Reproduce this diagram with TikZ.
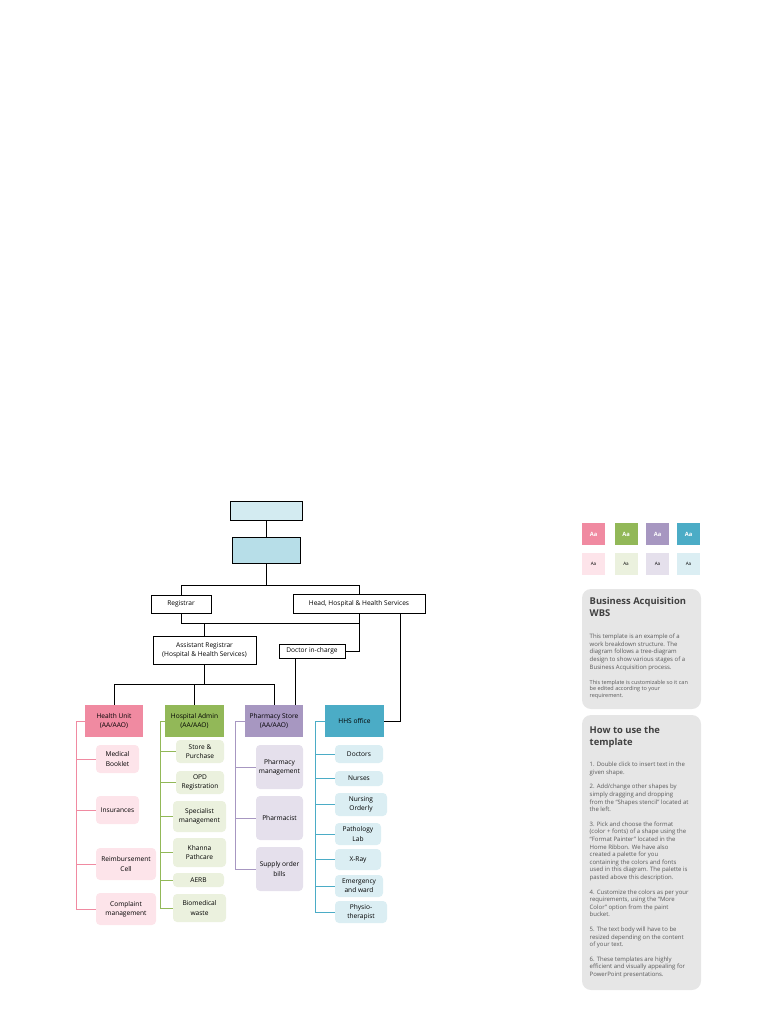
\documentclass[tikz,border=0pt]{standalone}
\usepackage{fontspec}
\setmainfont{Open Sans}
\usetikzlibrary{positioning}

\definecolor{topfill}{HTML}{D3EBF1}
\definecolor{chieffill}{HTML}{B7DEE8}
\definecolor{pinkdark}{HTML}{F08AA1}
\definecolor{pinklight}{HTML}{FDE4EA}
\definecolor{greendark}{HTML}{92B858}
\definecolor{greenlight}{HTML}{EBF1DE}
\definecolor{purpledark}{HTML}{A797C1}
\definecolor{purplelight}{HTML}{E5E0EC}
\definecolor{tealdark}{HTML}{4BACC6}
\definecolor{teallight}{HTML}{DBEEF3}
\definecolor{panelgray}{HTML}{E6E6E6}
\definecolor{titlegray}{HTML}{404040}
\definecolor{bodygray}{HTML}{595959}

\begin{document}
\begin{tikzpicture}[x=1pt, y=-1pt,
    every node/.style={font=\fontsize{6.6}{9.2}\selectfont, align=center, inner sep=1pt},
    plainbox/.style={draw=black, line width=0.8pt, fill=white},
    colhead/.style={minimum height=32pt},
    leaf/.style={rounded corners=4pt},
    conn/.style={line width=0.8pt},
    swatch/.style={minimum width=23pt, minimum height=22pt, font=\fontsize{5.8}{6}\selectfont\bfseries},
    panel/.style={fill=panelgray, rounded corners=9pt},
    paneltitle/.style={anchor=north west, align=left, text=titlegray, font=\fontsize{9.4}{12}\selectfont\bfseries},
    panelbody/.style={anchor=north west, align=left, text=bodygray, font=\fontsize{6}{7.6}\selectfont}]

    \useasboundingbox (0,0) rectangle (768,1024);

    % top of the tree
    \node [plainbox, fill=topfill, minimum width=72pt, minimum height=19pt] (top) at (266,510.5) {};
    \node [plainbox, fill=chieffill, minimum width=68pt, minimum height=26pt] (chief) at (266,550) {};
    \node [plainbox, minimum width=60pt, minimum height=18pt] (reg) at (181,604) {Registrar};
    \node [plainbox, minimum width=132pt, minimum height=19pt] (head) at (359,603.5) {Head, Hospital \& Health Services};
    \node [plainbox, minimum width=103pt, minimum height=28pt] (asst) at (204.5,650) {Assistant Registrar\\(Hospital \& Health Services)};
    \node [plainbox, minimum width=66pt, minimum height=14pt] (doc) at (312,651) {Doctor in-charge};

    \draw [conn] (top) -- (chief);
    \coordinate (split1) at ([yshift=-22pt]chief.south);
    \draw [conn] (chief.south) -- (split1);
    \draw [conn] (reg.north) |- (split1) -| (head.north);
    \draw [conn] (reg.south) -- ++(0,10) -| (head.south);
    \draw [conn] (head.south) |- (doc.east);
    \draw [conn] (asst.north) -- ++(0,-13);

    % column heads
    \node [colhead, fill=pinkdark, minimum width=58pt] (hu) at (114,721) {Health Unit\\(AA/AAO)};
    \node [colhead, fill=greendark, minimum width=59pt] (ha) at (194.5,721) {Hospital Admin\\(AA/AAO)};
    \node [colhead, fill=purpledark, minimum width=58pt] (ps) at (274,721) {Pharmacy Store\\(AA/AAO)};
    \node [colhead, fill=tealdark, minimum width=59pt] (hhs) at (354.5,721) {HHS office};

    \coordinate (split2) at ([yshift=-20pt]asst.south);
    \draw [conn] (asst.south) -- (split2);
    \draw [conn] (hu.north) |- (split2) -| (ps.north);
    \draw [conn] (ha.north) -- (ha.north |- split2);
    \draw [conn] ([xshift=-17pt]doc.south) -- ([xshift=-17pt]doc.south |- ps.north);
    \draw [conn] ([xshift=-25pt]head.south east) |- (hhs.east);

    % Health Unit
    \node [leaf, fill=pinklight, minimum width=43pt, minimum height=28pt] (hu1) at (117.5,759) {Medical\\Booklet};
    \node [leaf, fill=pinklight, minimum width=43pt, minimum height=28pt] (hu2) at (117.5,810) {Insurances};
    \node [leaf, fill=pinklight, minimum width=60pt, minimum height=32pt] (hu3) at (126,864) {Reimbursement\\Cell};
    \node [leaf, fill=pinklight, minimum width=60pt, minimum height=32pt] (hu4) at (126,909) {Complaint\\management};
    \coordinate (hutrunk) at ([xshift=-8pt]hu.west);
    \draw [conn, pinkdark] (hu.west) -- (hutrunk) |- (hu4.west);
    \foreach \c in {hu1,hu2,hu3}
        \draw [conn, pinkdark] (hutrunk |- \c.west) -- (\c.west);

    % Hospital Admin
    \node [leaf, fill=greenlight, minimum width=48pt, minimum height=23pt] (ha1) at (200,751.5) {Store \&\\Purchase};
    \node [leaf, fill=greenlight, minimum width=48pt, minimum height=23pt] (ha2) at (200,782.5) {OPD\\Registration};
    \node [leaf, fill=greenlight, minimum width=53pt, minimum height=31pt] (ha3) at (199.5,816.5) {Specialist\\management};
    \node [leaf, fill=greenlight, minimum width=53pt, minimum height=29pt] (ha4) at (199.5,852.5) {Khanna\\Pathcare};
    \node [leaf, fill=greenlight, minimum width=51pt, minimum height=14pt] (ha5) at (198.5,880) {AERB};
    \node [leaf, fill=greenlight, minimum width=53pt, minimum height=28pt] (ha6) at (199.5,908) {Biomedical\\waste};
    \coordinate (hatrunk) at ([xshift=-4pt]ha.west);
    \draw [conn, greendark] (ha.west) -- (hatrunk) |- (ha6.west);
    \foreach \c in {ha1,ha2,ha3,ha4,ha5}
        \draw [conn, greendark] (hatrunk |- \c.west) -- (\c.west);

    % Pharmacy Store
    \node [leaf, fill=purplelight, minimum width=47pt, minimum height=44pt] (ps1) at (279.5,767) {Pharmacy\\management};
    \node [leaf, fill=purplelight, minimum width=47pt, minimum height=44pt] (ps2) at (279.5,818) {Pharmacist};
    \node [leaf, fill=purplelight, minimum width=47pt, minimum height=44pt] (ps3) at (279.5,869) {Supply order\\bills};
    \coordinate (pstrunk) at ([xshift=-9pt]ps.west);
    \draw [conn, purpledark] (ps.west) -- (pstrunk) |- (ps3.west);
    \foreach \c in {ps1,ps2}
        \draw [conn, purpledark] (pstrunk |- \c.west) -- (\c.west);

    % HHS office
    \node [leaf, fill=teallight, minimum width=48pt, minimum height=18pt] (h1) at (359,754) {Doctors};
    \node [leaf, fill=teallight, minimum width=48pt, minimum height=15pt] (h2) at (359,778.5) {Nurses};
    \node [leaf, fill=teallight, minimum width=52pt, minimum height=23pt] (h3) at (361,804.5) {Nursing\\Orderly};
    \node [leaf, fill=teallight, minimum width=46pt, minimum height=22pt] (h4) at (358,834) {Pathology\\Lab};
    \node [leaf, fill=teallight, minimum width=46pt, minimum height=21pt] (h5) at (358,859.5) {X-Ray};
    \node [leaf, fill=teallight, minimum width=48pt, minimum height=22pt] (h6) at (359,886) {Emergency\\and ward};
    \node [leaf, fill=teallight, minimum width=52pt, minimum height=22pt] (h7) at (361,912) {Physio-\\therapist};
    \coordinate (hhstrunk) at ([xshift=-9pt]hhs.west);
    \draw [conn, tealdark] (hhs.west) -- (hhstrunk) |- (h7.west);
    \foreach \c in {h1,h2,h3,h4,h5,h6}
        \draw [conn, tealdark] (hhstrunk |- \c.west) -- (\c.west);

    % palette
    \node [swatch, fill=pinkdark, text=white] (sw1) at (593.5,534) {Aa};
    \node [swatch, fill=greendark, text=white] (sw2) at (626,534) {Aa};
    \node [swatch, fill=purpledark, text=white] (sw3) at (657.5,534) {Aa};
    \node [swatch, fill=tealdark, text=white] (sw4) at (688.5,534) {Aa};
    \node [swatch, fill=pinklight, font=\fontsize{4.6}{5}\selectfont] (sl1) at (593.5,563.5) {Aa};
    \node [swatch, fill=greenlight, font=\fontsize{4.6}{5}\selectfont] (sl2) at (626,563.5) {Aa};
    \node [swatch, fill=purplelight, font=\fontsize{4.6}{5}\selectfont] (sl3) at (657.5,563.5) {Aa};
    \node [swatch, fill=teallight, font=\fontsize{4.6}{5}\selectfont] (sl4) at (688.5,563.5) {Aa};

    % description panels
    \fill [panel] (582,589) rectangle (701,709);
    \node [paneltitle] (bt) at (588.5,596) {Business Acquisition\\WBS};
    \node [panelbody] (bb) at (588.5,633) {This template is an example of a\\work breakdown structure. The\\diagram follows a tree-diagram\\design to show various stages of a\\Business Acquisition process.};
    \node [panelbody, font=\fontsize{5.5}{6.6}\selectfont] (bb2) at (588.5,679) {This template is customizable so it can\\be edited according to your\\requirement.};

    \fill [panel] (582,715) rectangle (701,990);
    \node [paneltitle] (ht) at (588.5,725) {How to use the\\template};
    \node [panelbody] (hb) at (588.5,761) {1. Double click to insert text in the\\given shape.\\[7pt]
        2. Add/change other shapes by\\simply dragging and dropping\\from the “Shapes stencil” located at\\the left.\\[7pt]
        3. Pick and choose the format\\(color + fonts) of a shape using the\\“Format Painter” located in the\\Home Ribbon. We have also\\created a palette for you\\containing the colors and fonts\\used in this diagram. The palette is\\pasted above this description.\\[7pt]
        4. Customize the colors as per your\\requirements, using the “More\\Color” option from the paint\\bucket.\\[7pt]
        5. The text body will have to be\\resized depending on the content\\of your text.\\[7pt]
        6. These templates are highly\\efficient and visually appealing for\\PowerPoint presentations.};
\end{tikzpicture}
\end{document}
